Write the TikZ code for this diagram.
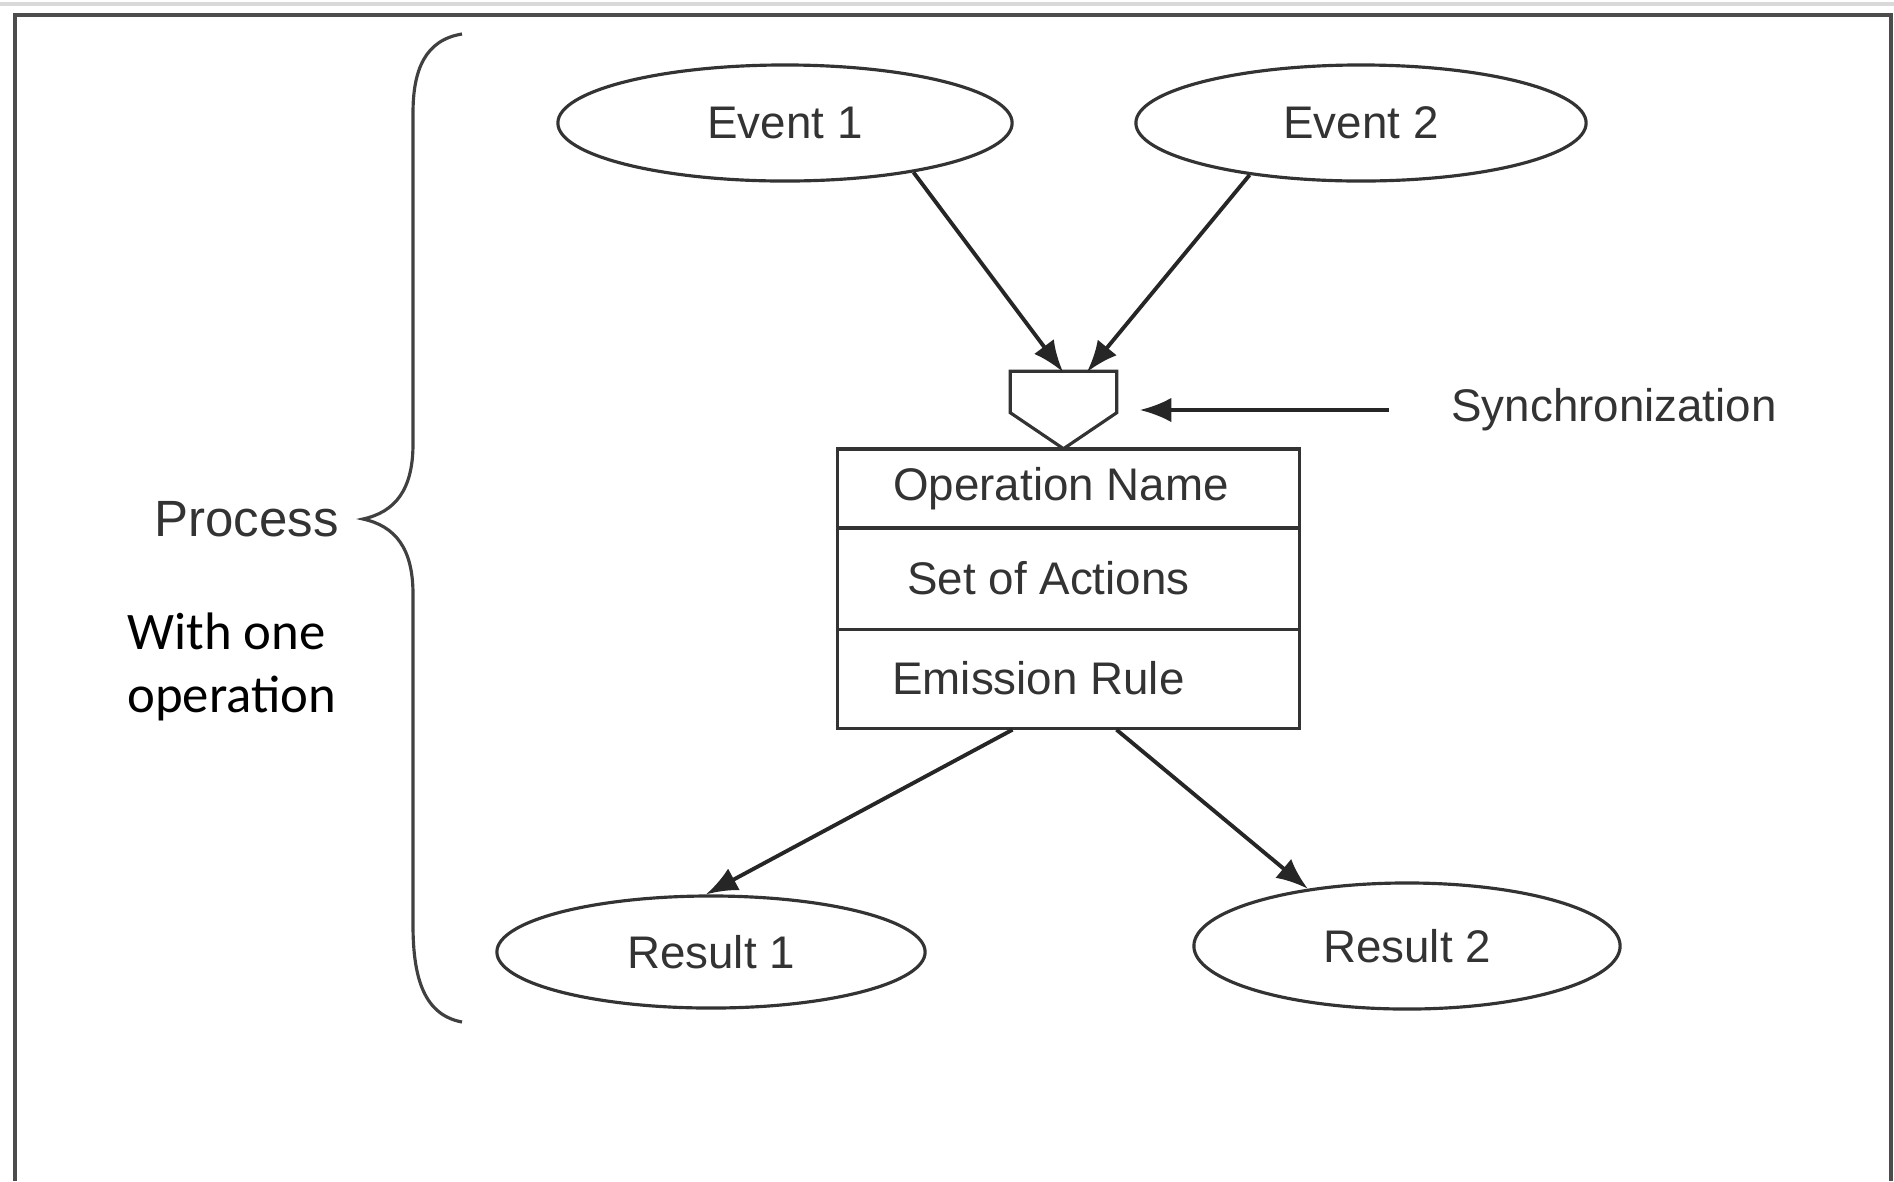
\documentclass[tikz,border=0pt]{standalone}
\usepackage{fontspec}
\setmainfont{Liberation Sans}
\newfontfamily\notefont{Carlito}
\usetikzlibrary{shapes.geometric,positioning,arrows.meta}

\tikzset{
  event/.style={draw=black!80, line width=0.9pt, ellipse, inner sep=0pt,
    text=black!80, font=\fontsize{13}{15}\selectfont},
  part/.style={draw=black!80, line width=0.9pt, minimum width=4.61cm, inner sep=0pt,
    text=black!80, font=\fontsize{13}{15}\selectfont},
  flow/.style={draw=black!85, line width=1.1pt, -{Latex[length=9pt,width=7pt]}}
}

\begin{document}
\begin{tikzpicture}[x=0.01cm, y=-0.01cm]
\useasboundingbox (0,0) rectangle (1894,1181);
\draw[black!15, line width=1pt] (0,4) -- (1894,4);
\draw[black!70, line width=1pt] (15,1181) -- (15,15) -- (1891,15) -- (1891,1181);

% events and results
\node (ev1) [event, minimum width=4.54cm, minimum height=1.16cm, at={(785,123)}] {Event 1};
\node (ev2) [event, minimum width=4.50cm, minimum height=1.16cm, at={(1361,123)}] {Event 2};
\node (rs1) [event, minimum width=4.28cm, minimum height=1.12cm, at={(711,952)}] {Result 1};
\node (rs2) [event, minimum width=4.26cm, minimum height=1.26cm, at={(1407,946)}] {Result 2};

% synchronization bar
\node (sync) [minimum width=1.05cm, minimum height=0.76cm, inner sep=0pt, at={(1063.5,410)}] {};
\draw[black!80, line width=0.9pt] (sync.north west) -- (sync.north east) -- ([yshift=0.36cm]sync.south east)
  -- (sync.south) -- ([yshift=0.36cm]sync.south west) -- cycle;
\coordinate (in1) at (1063,372);
\coordinate (in2) at (1087,372);
\node (synclab) [text=black!80, font=\fontsize{13}{15}\selectfont, at={(1614,410)}] {Synchronization};

% operation
\node (opname) [part, minimum height=0.79cm, at={(1068.5,488.5)}] {\hspace*{-0.15cm}Operation Name};
\node (actions) [part, minimum height=1.01cm, below=-0.9pt of opname] {\hspace*{-0.4cm}Set of Actions};
\node (emit) [part, minimum height=0.99cm, below=-0.9pt of actions] {\hspace*{-0.6cm}Emission Rule};

\draw[flow] (ev1.-21) -- (in1);
\draw[flow] (ev2.-155) -- (in2);
\draw[flow] ([xshift=-0.5cm]synclab.west) -- ([xshift=0.23cm]sync.east);
\draw[flow] ([xshift=-0.56cm]emit.south) -- (rs1.95);
\draw[flow] ([xshift=0.48cm]emit.south) -- (rs2.150);

% brace
\coordinate (tip) at (363,519);
\draw[black!75, line width=0.9pt] (462,34) .. controls (425,40) and (413,70) .. (413,113) -- (413,444)
  .. controls (413,490) and (395,512) .. (tip) .. controls (395,526) and (413,548) .. (413,594)
  -- (413,925) .. controls (413,980) and (425,1015) .. (462,1022);
\node (proc) [left=0.12cm of tip, text=black!80, font=\fontsize{14.5}{16}\selectfont] {Process};
\node (note) [anchor=west, align=left, font=\notefont\fontsize{15}{18}\selectfont, at={(115,667)}] {With one\\operation};
\end{tikzpicture}
\end{document}
